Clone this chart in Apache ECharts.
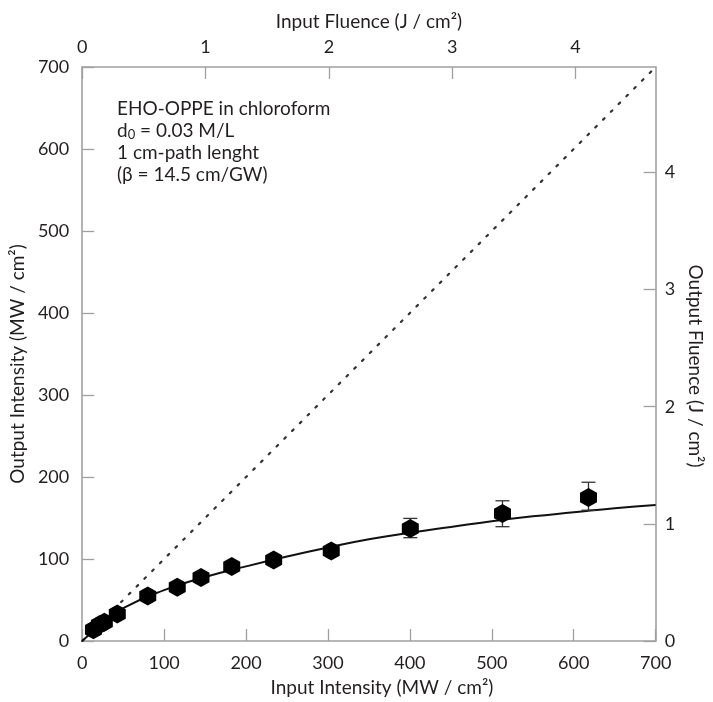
<!DOCTYPE html>
<html>
<head>
<meta charset="utf-8">
<script src="https://cdn.jsdelivr.net/npm/echarts@6/dist/echarts.min.js"></script>
<style>html,body{margin:0;padding:0;background:#fff}#c{width:713px;height:702px}</style>
</head>
<body>
<div id="c"></div>
<script>
// Measured points (Input intensity MW/cm2, Output intensity MW/cm2)
const inputIntensity  = [13.7, 21, 27, 42.8, 80, 116, 145, 182.5, 233.7, 304, 400.5, 513, 618];
const outputIntensity = [13.7, 19.8, 23, 32.8, 55, 65.6, 77.4, 90.8, 98.8, 109.7, 137.3, 155.5, 175];
// Error bars (x, low, high)
const errX    = [400.5, 513, 618];
const errLow  = [126, 139.4, 159.5];
const errHigh = [149.5, 171, 193.6];
// Fit curve
const curveX = [0, 25, 50, 100, 150, 200, 250, 300, 350, 400, 450, 500, 550, 600, 650, 700];
const curveY = [0, 22, 40, 62, 78, 91, 103, 114, 124, 132, 139, 146, 152, 157, 162, 166];
// Linear transmission reference (dotted)
const refX = [0, 700];
const refY = [0, 700];
// Axis ranges / ticks
const intensityTicks = [0, 100, 200, 300, 400, 500, 600, 700];
const inputFluenceMax = 4.65;
const outputFluenceMax = 4.9;

const font = 'Lato';
const axisGray = '#a0a0a0';
const textCol = '#231f20';

const chart = echarts.init(document.getElementById('c'));
const hex = 'path://M0,-1 L0.866,-0.5 L0.866,0.5 L0,1 L-0.866,0.5 L-0.866,-0.5 Z';

function axisBase(){
  return {
    splitLine:{show:false},
    axisLine:{show:true, onZero:false, lineStyle:{color:axisGray, width:1.6}},
    axisTick:{show:true, inside:true, length:12, lineStyle:{color:axisGray, width:1.3}},
    nameLocation:'middle'
  };
}
function lbl(margin, showMax){
  return {color:textCol, fontFamily:font, fontSize:18, margin:margin, showMaxLabel:showMax};
}
function nm(pad){
  return {color:textCol, fontFamily:font, fontSize:19, padding:pad};
}

const option = {
  animation:false,
  backgroundColor:'#fff',
  grid:{left:82, right:53, top:67, bottom:59, containLabel:false},
  xAxis:[
    Object.assign(axisBase(), {type:'value', position:'bottom', min:intensityTicks[0], max:intensityTicks[intensityTicks.length-1], interval:100,
      name:'Input Intensity (MW / cm²)', nameGap:37, axisLabel:lbl(13,true), nameTextStyle:nm([0,0,0,26])}),
    Object.assign(axisBase(), {type:'value', position:'top', min:0, max:inputFluenceMax, interval:1,
      name:'Input Fluence (J / cm²)', nameGap:36, axisLabel:lbl(11,false), nameTextStyle:nm(0)})
  ],
  yAxis:[
    Object.assign(axisBase(), {type:'value', position:'left', min:intensityTicks[0], max:intensityTicks[intensityTicks.length-1], interval:100,
      name:'Output Intensity (MW / cm²)', nameGap:53, axisLabel:lbl(13,true), nameTextStyle:nm([0,20,0,0])}),
    Object.assign(axisBase(), {type:'value', position:'right', min:0, max:outputFluenceMax, interval:1,
      name:'Output Fluence (J / cm²)', nameGap:30, nameRotate:-90, axisLabel:lbl(9,false), nameTextStyle:nm([0,0,0,24])})
  ],
  graphic:[{
    type:'text', left:117, top:99, z:100,
    style:{
      text:'{a|EHO-OPPE in chloroform}\n{a|d}{s|0}{a| = 0.03 M/L}\n{a|1 cm-path lenght}\n{a|(β = 14.5 cm/GW)}',
      rich:{
        a:{fontFamily:font, fontSize:19, lineHeight:22, fill:textCol, color:textCol},
        s:{fontFamily:font, fontSize:13, lineHeight:22, fill:textCol, color:textCol, verticalAlign:'bottom', padding:[14,0,0,0]}
      }
    }
  }],
  series:[
    {type:'line', xAxisIndex:0, yAxisIndex:0, data:refX.map((x,i)=>[x,refY[i]]), showSymbol:false, symbol:'none',
      lineStyle:{color:'#333', width:2.2, type:[2,9], cap:'round'}, z:2},
    {type:'line', xAxisIndex:0, yAxisIndex:0, data:curveX.map((x,i)=>[x,curveY[i]]), smooth:true, showSymbol:false, symbol:'none',
      lineStyle:{color:'#111', width:2}, z:3},
    {type:'custom', xAxisIndex:0, yAxisIndex:0, data:errX.map((x,i)=>[x,errLow[i],errHigh[i]]), z:4,
      renderItem:function(params, api){
        const x=api.value(0), lo=api.value(1), hi=api.value(2);
        const p1=api.coord([x,lo]), p2=api.coord([x,hi]);
        const w=7;
        const st={stroke:'#333', lineWidth:1.3};
        return {type:'group', children:[
          {type:'line', shape:{x1:p1[0],y1:p1[1],x2:p2[0],y2:p2[1]}, style:st},
          {type:'line', shape:{x1:p1[0]-w,y1:p1[1],x2:p1[0]+w,y2:p1[1]}, style:st},
          {type:'line', shape:{x1:p2[0]-w,y1:p2[1],x2:p2[0]+w,y2:p2[1]}, style:st}
        ]};
      }},
    {type:'scatter', xAxisIndex:0, yAxisIndex:0, data:inputIntensity.map((x,i)=>[x,outputIntensity[i]]),
      symbol:hex, symbolSize:[17,19], itemStyle:{color:'#000', opacity:1}, z:5}
  ]
};
chart.setOption(option);
</script>
</body>
</html>
